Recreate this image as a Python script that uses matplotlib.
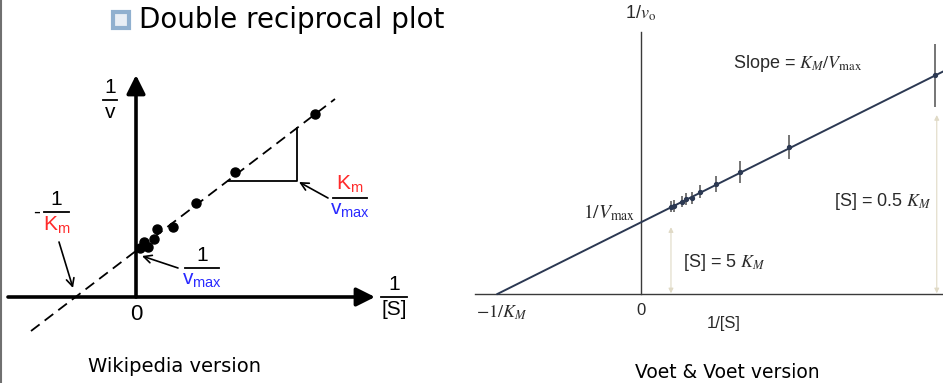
import numpy as np
import matplotlib.pyplot as plt
from matplotlib.patches import Rectangle

plt.rcParams['font.family'] = ['Liberation Sans', 'DejaVu Sans']
plt.rcParams['mathtext.fontset'] = 'stix'
plt.rcParams['mathtext.rm'] = 'Liberation Sans'
plt.rcParams['mathtext.it'] = 'Liberation Sans:italic'

W, H = 943, 383

#* Wikipedia version data (1/[S], 1/v), arbitrary units
wiki_x = [0.04, 0.08, 0.12, 0.18, 0.21, 0.37, 0.60, 0.99, 1.79]
wiki_y = [0.49, 0.55, 0.50, 0.58, 0.68, 0.70, 0.94, 1.25, 1.83]
wiki_line_x = [-1.05, 1.99]
wiki_line_y = [-0.34, 1.98]

#* Voet & Voet data (1/[S] in 1/K_M, 1/v0 in 1/Vmax)
voet_x = [0.21, 0.23, 0.28, 0.31, 0.35, 0.41, 0.52, 0.68, 1.02, 2.03]
voet_y = [1.23, 1.24, 1.30, 1.34, 1.35, 1.44, 1.55, 1.72, 2.07, 3.08]
voet_err = [0.08, 0.08, 0.08, 0.08, 0.08, 0.09, 0.11, 0.15, 0.17, 0.44]
voet_line_x = [-0.99, 2.08]
voet_line_y = [0.0, 3.13]

RED = '#ff2a2a'
BLUE = '#2a2aff'

fig = plt.figure(figsize=(W / 100, H / 100), dpi=100)


def fpos(px, py):
    return px / W, 1 - py / H


# ---------------- left panel ----------------
axl = fig.add_axes([0, 0, 470 / W, 1])
axl.set_xlim(-1.36, 3.34)
axl.set_ylim(-0.86, 2.97)
axl.axis('off')

arrow_kw = dict(arrowstyle='-|>', lw=2.6, color='black', mutation_scale=28,
                shrinkA=0, shrinkB=0)
axl.annotate('', xy=(2.39, 0), xytext=(-1.28, 0), arrowprops=arrow_kw)
axl.annotate('', xy=(0, 2.22), xytext=(0, 0), arrowprops=arrow_kw)

axl.plot(wiki_line_x, wiki_line_y, color='black', lw=1.3, dashes=(6, 3.5))
axl.plot(wiki_x, wiki_y, 'o', color='black', ms=6.5)

# slope triangle
axl.plot([0.92, 1.61, 1.61], [1.16, 1.16, 1.69], color='black', lw=1.3)

fs = 15


def frac(ax, x, y_bar, num, den, w, num_color='black', den_color='black'):
    ax.plot([x - w / 2, x + w / 2], [y_bar, y_bar], color='black', lw=1.3)
    ax.text(x, y_bar + 0.03, num, ha='center', va='bottom', fontsize=fs,
            color=num_color, math_fontfamily='custom')
    ax.text(x, y_bar - 0.03, den, ha='center', va='top', fontsize=fs,
            color=den_color, math_fontfamily='custom')


# 1/v label
frac(axl, -0.26, 1.97, '1', 'v', 0.14)
# 1/[S] label
frac(axl, 2.58, 0.0, '1', '[S]', 0.26)
axl.text(0, -0.07, '0', ha='center', va='top', fontsize=16)

# -1/Km
axl.text(-0.99, 0.85, '-', ha='center', va='center', fontsize=fs)
frac(axl, -0.795, 0.85, '1', r'K$_{\mathrm{m}}$', 0.25, den_color=RED)
# 1/vmax
frac(axl, 0.66, 0.29, '1', r'v$_{\mathrm{max}}$', 0.34, den_color=BLUE)
# Km/vmax
frac(axl, 2.14, 0.99, r'K$_{\mathrm{m}}$', r'v$_{\mathrm{max}}$', 0.34,
     num_color=RED, den_color=BLUE)

thin = dict(arrowstyle='->', lw=1.2, color='black', mutation_scale=14,
            shrinkA=0, shrinkB=0)
axl.annotate('', xy=(-0.63, 0.09), xytext=(-0.77, 0.55), arrowprops=thin)
axl.annotate('', xy=(0.06, 0.41), xytext=(0.42, 0.29), arrowprops=thin)
axl.annotate('', xy=(1.63, 1.15), xytext=(1.92, 0.99), arrowprops=thin)

# ---------------- right panel ----------------
axr = fig.add_axes([470 / W, 0, 473 / W, 1])
axr.set_xlim(-1.179, 2.083)
axr.set_ylim(-1.254, 4.141)
axr.axis('off')

axr.plot([-1.145, 2.09], [0, 0], color='#3a3a3a', lw=1.0)
axr.plot([0, 0], [0, 3.69], color='#3a3a3a', lw=1.0)

pale = dict(arrowstyle='<|-|>', lw=0.8, color='#e0dac6', mutation_scale=7,
            shrinkA=0, shrinkB=0)
axr.annotate('', xy=(0.207, 0.94), xytext=(0.207, 0.01), arrowprops=pale)
axr.annotate('', xy=(2.04, 2.52), xytext=(2.04, 0.01), arrowprops=pale)

axr.plot(voet_line_x, voet_line_y, color='#2b3852', lw=1.4)
axr.errorbar(voet_x, voet_y, yerr=voet_err, fmt='o', color='#2b3852', ms=2.8,
             ecolor='#505050', elinewidth=1.1, capsize=0)

rs = 13
tc = '#2a2a2a'
axr.text(0, 3.82, r'1/$v_{\mathrm{o}}$', ha='center', va='bottom', fontsize=rs,
         color=tc, math_fontfamily='stix')
axr.text(1.08, 3.25, r'Slope = $K_M/V_{\mathrm{max}}$', ha='center', va='center',
         fontsize=rs, color=tc)
axr.text(-0.04, 1.14, r'$1/V_{\mathrm{max}}$', ha='right', va='center',
         fontsize=rs + 1, color=tc)
axr.text(0.29, 0.45, r'[S] = 5 $K_M$', ha='left', va='center', fontsize=rs,
         color=tc)
axr.text(1.33, 1.30, r'[S] = 0.5 $K_M$', ha='left', va='center', fontsize=rs,
         color=tc)
axr.text(-1.14, -0.27, r'$-1/K_M$', ha='left', va='center', fontsize=rs,
         color=tc)
axr.text(0, -0.23, '0', ha='center', va='center', fontsize=rs - 1, color=tc)
axr.text(0.57, -0.41, '1/[S]', ha='center', va='center', fontsize=rs - 1,
         color=tc)

# ---------------- slide decorations ----------------
fig.add_artist(plt.Line2D([1 / W, 1 / W], [0, 1], color='#707070', lw=1.5))
x0, y0 = fpos(113, 28)
fig.add_artist(Rectangle((x0, y0), 16 / W, 16 / H, facecolor='#e8eef5',
                         edgecolor='#90b0cf', lw=3))
x, y = fpos(139, 20)
fig.text(x, y, 'Double reciprocal plot', ha='left', va='center', fontsize=20,
         family=['DejaVu Sans'])
x, y = fpos(175, 366)
fig.text(x, y, 'Wikipedia version', ha='center', va='center', fontsize=14,
         family=['DejaVu Sans'])
x, y = fpos(727, 373)
fig.text(x, y, 'Voet & Voet version', ha='center', va='center', fontsize=13.5,
         family=['DejaVu Sans'])

fig.savefig('out.png', dpi=100)
